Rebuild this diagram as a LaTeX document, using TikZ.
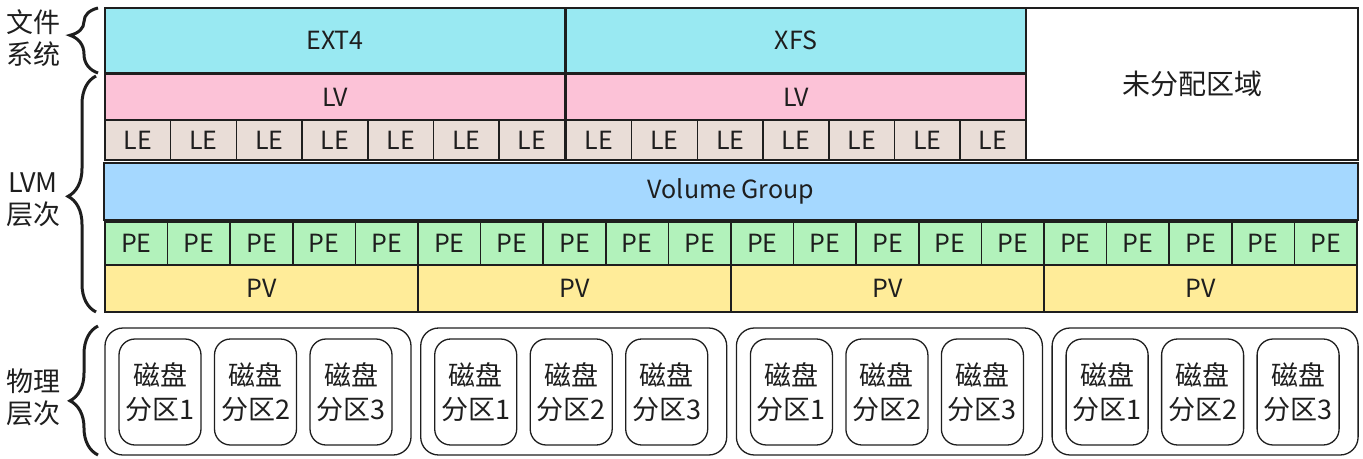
\documentclass[tikz,border=0pt]{standalone}
\usepackage{fontspec}
\setmainfont{Noto Sans CJK SC}
\usetikzlibrary{decorations.pathreplacing}

\definecolor{inkblack}{HTML}{1E1E1E}
\definecolor{fscyan}{HTML}{99E9F2}
\definecolor{lvpink}{HTML}{FCC2D7}
\definecolor{lebrown}{HTML}{E9DDD7}
\definecolor{vgblue}{HTML}{A5D8FF}
\definecolor{pegreen}{HTML}{B2F2BB}
\definecolor{pvyellow}{HTML}{FFEC99}

\tikzset{
    % plain block of one layer
    cell/.style={draw=inkblack, line width=1.5pt, inner sep=0pt, text=inkblack,
        font=\fontsize{25}{28}\selectfont},
    lebox/.style={cell, fill=lebrown, minimum width=65.7pt, minimum height=40pt},
    pebox/.style={cell, fill=pegreen, minimum width=62.6pt, minimum height=43pt},
    pvbox/.style={cell, fill=pvyellow, minimum width=313pt, minimum height=47pt},
    % physical disks
    diskbox/.style={draw=inkblack, line width=1.3pt, rounded corners=18pt,
        minimum width=306pt, minimum height=127pt},
    partbox/.style={draw=inkblack, line width=1.3pt, rounded corners=16pt,
        minimum width=82pt, minimum height=106pt, align=center, text=inkblack,
        font=\fontsize{27}{34}\selectfont},
    sidelabel/.style={align=center, font=\fontsize{27}{32}\selectfont, text=inkblack},
    layerbrace/.style={draw=inkblack, line width=3pt, decorate,
        decoration={brace, amplitude=28pt, aspect=#1}}
}

\begin{document}
\begin{tikzpicture}[x=1pt, y=-1pt]
    \useasboundingbox (0,0) rectangle (1363,458);
    % file systems
    \node[cell, fill=fscyan, minimum width=460pt, minimum height=65pt] (ext4) at (335,40.5) {EXT4};
    \node[cell, fill=fscyan, minimum width=460pt, minimum height=65pt] (xfs) at (796,40.5) {XFS};
    \node[cell, fill=white, minimum width=332pt, minimum height=152pt,
        font=\fontsize{28}{30}\selectfont] (free) at (1192,84) {未分配区域};
    % logical volumes and their LEs
    \node[cell, fill=lvpink, minimum width=460pt, minimum height=46pt] (lv1) at (335,97) {LV};
    \node[cell, fill=lvpink, minimum width=460pt, minimum height=46pt] (lv2) at (796,97) {LV};
    \foreach \v/\x in {1/105, 2/566} {
        \foreach \i in {0,...,6}
            \node[lebox] (le\v-\i) at ({\x+65.7*(\i+0.5)},140) {LE};
    }
    % volume group
    \node[cell, fill=vgblue, minimum width=1254pt, minimum height=57pt] (vg) at (731,191.5) {Volume Group};
    % physical volumes and their PEs
    \foreach \g in {0,...,3} {
        \node[pvbox] (pv\g) at ({261.5+313*\g},288.5) {PV};
        \foreach \i in {0,...,4}
            \node[pebox] (pe\g-\i) at ({105+313*\g+62.6*(\i+0.5)},243.5) {PE};
    }
    % disks and partitions
    \foreach \g in {0,...,3} {
        \node[diskbox] (disk\g) at ({258+315.7*\g},391.5) {};
        \foreach \p in {1,2,3}
            \node[partbox] (part\g-\p) at ({160+315.7*\g+95.5*(\p-1)},392) {磁盘\\分区\p};
    }
    % layer braces and names
    \draw[layerbrace=0.58] (98,73) -- (98,8);
    \draw[layerbrace=0.49] (96,312) -- (96,76);
    \draw[layerbrace=0.42] (98,455) -- (98,326);
    \node[sidelabel] (fslabel) at (33,38) {文件\\系统};
    \node[sidelabel] (lvmlabel) at (33,200) {LVM\\层次};
    \node[sidelabel] (phylabel) at (33,397) {物理\\层次};
\end{tikzpicture}
\end{document}
